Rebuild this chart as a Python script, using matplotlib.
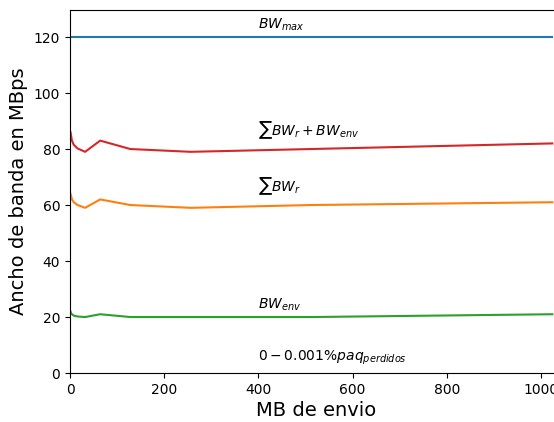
import matplotlib.pyplot as plt

mb = [1, 2, 4, 8, 16, 32, 64, 128, 256, 512, 1024]
bw_max = [120] * len(mb)
bw_r = [64, 63.5, 62, 61, 60, 59, 62, 60, 59, 60, 61]
bw_env = [22, 21.5, 21, 20.5, 20.2, 20, 21, 20, 20, 20, 21]
bw_total = [r + e for r, e in zip(bw_r, bw_env)]

fig = plt.figure(figsize=(5.54, 4.22), dpi=100)
# axes run past the right edge of the figure, as in the reference
ax = fig.add_axes([0.1264, 0.116, 0.914, 0.860])

ax.plot(mb, bw_max, color='tab:blue')
ax.plot(mb, bw_total, color='tab:red')
ax.plot(mb, bw_r, color='tab:orange')
ax.plot(mb, bw_env, color='tab:green')

ax.text(400, 123, r'$BW_{max}$', fontsize=10)
ax.text(400, 85, r'$\sum BW_r + BW_{env}$', fontsize=10)
ax.text(400, 65, r'$\sum BW_r$', fontsize=10)
ax.text(400, 23, r'$BW_{env}$', fontsize=10)
ax.text(400, 4.5, r'$0 - 0.001\% paq_{perdidos}$', fontsize=10)

ax.set_xlim(0, 1075)
ax.set_ylim(0, 129.6)
ax.set_xticks([0, 200, 400, 600, 800, 1000])
ax.set_xlabel('MB de envio', fontsize=14)
ax.set_ylabel('Ancho de banda en MBps', fontsize=14)
ax.xaxis.set_label_coords(0.486, -0.077)

fig.savefig('out.png', dpi=100)
